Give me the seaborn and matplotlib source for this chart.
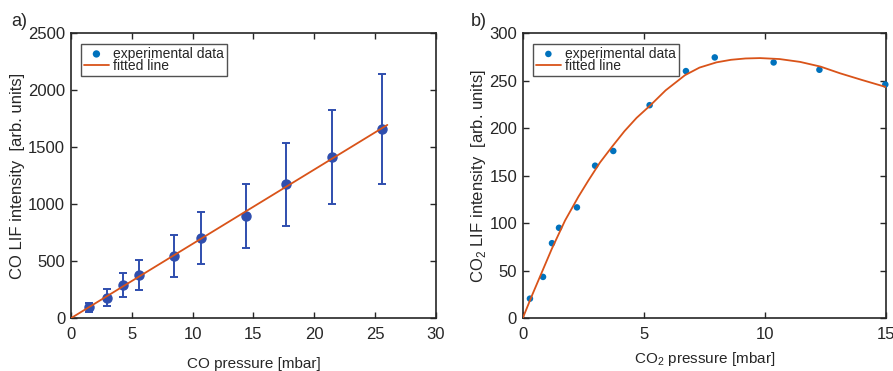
import numpy as np
import pandas as pd
import matplotlib
matplotlib.use('Agg')
import matplotlib.pyplot as plt
import seaborn as sns

# panel a: CO
co_pressure = [1.53, 2.98, 4.33, 5.64, 8.49, 10.68, 14.40, 17.66, 21.49, 25.60]
co_signal = [96, 181, 292, 380, 547, 705, 901, 1178, 1415, 1664]
co_err = [40, 76, 102, 131, 187, 226, 280, 364, 415, 482]
co_fit_x = [0, 26]
co_fit_y = [0, 1697]

# panel b: CO2
co2_pressure = [0.30, 0.84, 1.21, 1.50, 2.24, 2.99, 3.74, 5.24, 6.74, 7.93, 10.36, 12.25, 14.97]
co2_signal = [20.7, 43.6, 79.1, 95.3, 116.8, 160.7, 176.2, 224.4, 260.3, 274.7, 269.4, 261.7, 246.2]
co2_fit_x = [0, 0.4, 0.8, 1.2, 1.75, 2.3, 2.71, 3.19, 3.7, 4.2, 4.7, 5.26, 5.9, 6.7, 7.3, 8.0,
             8.6, 9.2, 9.8, 10.6, 11.45, 12.3, 13.1, 14.0, 15.0]
co2_fit_y = [0, 25, 49, 73, 103, 128, 145, 164, 181, 197, 211, 224, 240, 256, 264, 269.5,
             272.2, 273.6, 274, 273, 270, 265, 258, 251, 243.5]

BLUE = '#0072BD'
DARKBLUE = '#2F4EAE'
ORANGE = '#D95319'

sns.set_style('ticks')
plt.rcParams['font.family'] = ['Liberation Sans', 'DejaVu Sans']
plt.rcParams['mathtext.fontset'] = 'custom'
plt.rcParams['mathtext.rm'] = 'Liberation Sans'

fig = plt.figure(figsize=(8.93, 3.71), dpi=100)
ax1 = fig.add_axes([0.0792, 0.142, 0.4091, 0.768])
ax2 = fig.add_axes([0.5853, 0.142, 0.4069, 0.768])

df_a = pd.DataFrame({'p': co_pressure, 's': co_signal})
df_afit = pd.DataFrame({'p': co_fit_x, 's': co_fit_y})
df_b = pd.DataFrame({'p': co2_pressure, 's': co2_signal})
df_bfit = pd.DataFrame({'p': co2_fit_x, 's': co2_fit_y})

# --- a) ---
sns.scatterplot(data=df_a, x='p', y='s', ax=ax1, color=BLUE, s=28, edgecolor='none',
                label='experimental data', zorder=2)
ax1.errorbar(co_pressure, co_signal, yerr=co_err, fmt='o', color=DARKBLUE, ms=6.5,
             elinewidth=1.4, capsize=3, capthick=1.4, zorder=3)
sns.lineplot(data=df_afit, x='p', y='s', ax=ax1, color=ORANGE, lw=1.3, label='fitted line',
             zorder=4, sort=False)
ax1.set_xlim(0, 30)
ax1.set_ylim(0, 2500)
ax1.set_xticks(range(0, 31, 5))
ax1.set_yticks(range(0, 2501, 500))
ax1.set_xlabel('CO pressure [mbar]', fontsize=11, labelpad=11)
ax1.set_ylabel('CO LIF intensity  [arb. units]', fontsize=12, labelpad=2)

# --- b) ---
sns.scatterplot(data=df_b, x='p', y='s', ax=ax2, color=BLUE, s=22, edgecolor='none',
                label='experimental data', zorder=3, clip_on=False)
sns.lineplot(data=df_bfit, x='p', y='s', ax=ax2, color=ORANGE, lw=1.3, label='fitted line',
             zorder=4, sort=False)
ax2.set_xlim(0, 15)
ax2.set_ylim(0, 300)
ax2.set_xticks(range(0, 16, 5))
ax2.set_yticks(range(0, 301, 50))
ax2.set_xlabel('CO$_2$ pressure [mbar]', fontsize=11, labelpad=6)
ax2.set_ylabel('CO$_2$ LIF intensity  [arb. units]', fontsize=12, labelpad=1)

for ax in (ax1, ax2):
    for sp in ax.spines.values():
        sp.set_visible(True)
        sp.set_color('#262626')
        sp.set_linewidth(1.2)
    ax.tick_params(direction='in', length=4, width=1.0, top=True, right=True,
                   labelsize=12, colors='#262626', pad=4)
    ax.tick_params(axis='x', pad=6)
    leg = ax.legend(loc='upper left', fontsize=10, frameon=True, fancybox=False,
                    edgecolor='#262626', borderpad=0.2, labelspacing=-0.1,
                    handlelength=1.8, handletextpad=0.3, borderaxespad=0.75)
    leg.get_frame().set_linewidth(1.0)

fig.text(0.013, 0.93, 'a)', fontsize=13, color='#262626')
fig.text(0.527, 0.93, 'b)', fontsize=13, color='#262626')

fig.savefig('out.png', dpi=100)
